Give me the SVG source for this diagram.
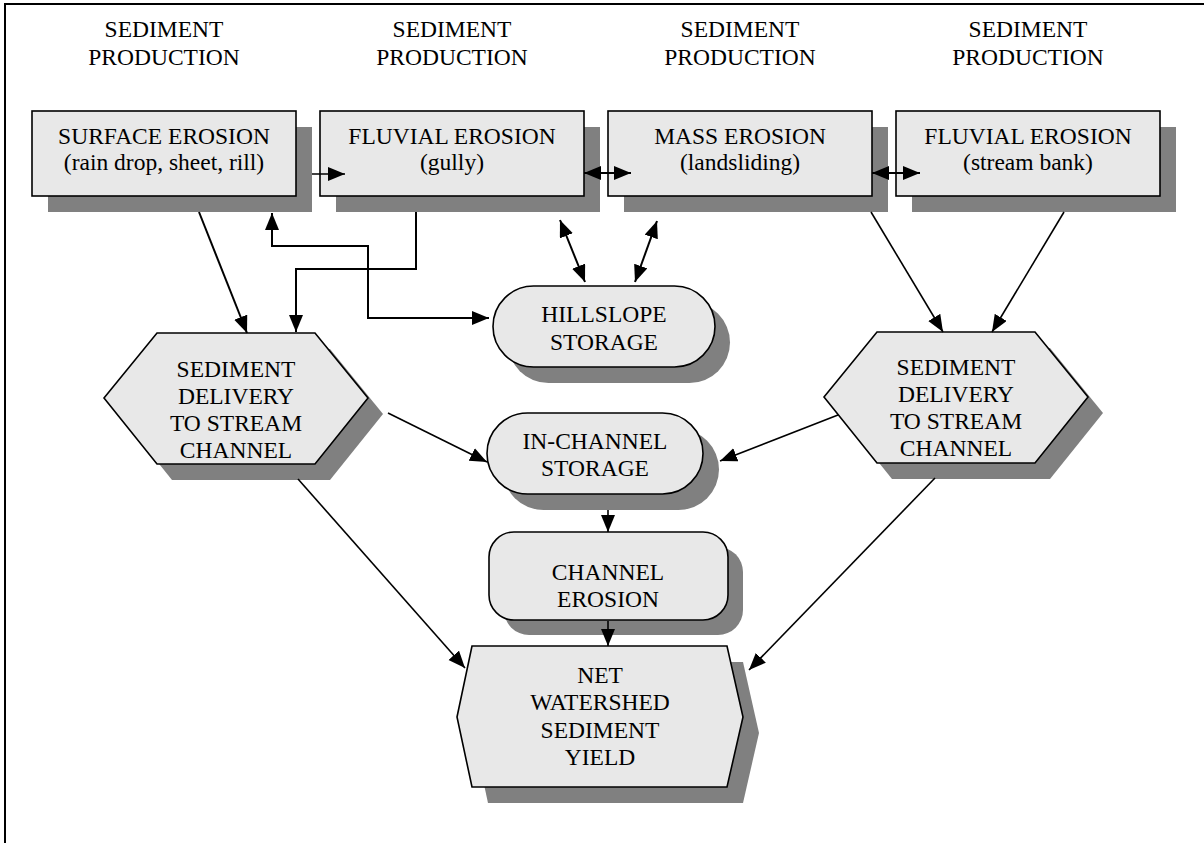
<svg xmlns="http://www.w3.org/2000/svg" width="1204" height="843" viewBox="0 0 1204 843">
<style>
.t{font-family:'Liberation Serif','Times New Roman',Tinos,'DejaVu Serif','Noto Serif',serif;font-size:23.5px;text-anchor:middle;fill:#000}
.box{fill:#e8e8e8;stroke:#000;stroke-width:1.6}
.sh{fill:#808080;stroke:none}
.c{fill:none;stroke:#000;stroke-width:2}
.c2{fill:none;stroke:#000;stroke-width:1.6}
</style>
<defs>
<marker id="ah" markerUnits="userSpaceOnUse" markerWidth="19" markerHeight="15" refX="17" refY="7" orient="auto-start-reverse">
<path d="M0,0 L17,7 L0,14 z" fill="#000"/>
</marker>
</defs>
<rect width="1204" height="843" fill="#fff"/>
<path d="M5,843 V4 H1204" fill="none" stroke="#000" stroke-width="2"/>

<g id="headers" font-family="Liberation Serif, serif">
<text class="t" x="164" y="37">SEDIMENT</text><text class="t" x="164" y="65">PRODUCTION</text>
<text class="t" x="452" y="37">SEDIMENT</text><text class="t" x="452" y="65">PRODUCTION</text>
<text class="t" x="740" y="37">SEDIMENT</text><text class="t" x="740" y="65">PRODUCTION</text>
<text class="t" x="1028" y="37">SEDIMENT</text><text class="t" x="1028" y="65">PRODUCTION</text>
</g>

<g id="surface-erosion">
<rect class="sh" x="48" y="127" width="264" height="85"/>
<rect class="box" x="32" y="111" width="264" height="85"/>
<text class="t" x="164" y="144">SURFACE EROSION</text><text class="t" x="164" y="170">(rain drop, sheet, rill)</text>
</g>
<g id="fluvial-gully">
<rect class="sh" x="336" y="127" width="264" height="85"/>
<rect class="box" x="320" y="111" width="264" height="85"/>
<text class="t" x="452" y="144">FLUVIAL EROSION</text><text class="t" x="452" y="170">(gully)</text>
</g>
<g id="mass-erosion">
<rect class="sh" x="624" y="127" width="264" height="85"/>
<rect class="box" x="608" y="111" width="264" height="85"/>
<text class="t" x="740" y="144">MASS EROSION</text><text class="t" x="740" y="170">(landsliding)</text>
</g>
<g id="fluvial-bank">
<rect class="sh" x="912" y="127" width="264" height="85"/>
<rect class="box" x="896" y="111" width="264" height="85"/>
<text class="t" x="1028" y="144">FLUVIAL EROSION</text><text class="t" x="1028" y="170">(stream bank)</text>
</g>

<g id="hillslope-storage">
<rect class="sh" x="508" y="302" width="222" height="81" rx="40.5"/>
<rect class="box" x="493" y="286" width="222" height="81" rx="40.5"/>
<text class="t" x="604" y="322">HILLSLOPE</text><text class="t" x="604" y="350">STORAGE</text>
</g>

<g id="delivery-left">
<polygon class="sh" points="119,414 172,349 330,349 383,414 330,480 172,480"/>
<polygon class="box" points="104,398 157,333 315,333 368,398 315,464 157,464"/>
<text class="t" x="236" y="377">SEDIMENT</text><text class="t" x="236" y="404">DELIVERY</text><text class="t" x="236" y="431">TO STREAM</text><text class="t" x="236" y="458">CHANNEL</text>
</g>
<g id="delivery-right">
<polygon class="sh" points="839,413 892,348 1050,348 1103,413 1050,479 892,479"/>
<polygon class="box" points="824,397 877,332 1035,332 1088,397 1035,463 877,463"/>
<text class="t" x="956" y="375">SEDIMENT</text><text class="t" x="956" y="402">DELIVERY</text><text class="t" x="956" y="429">TO STREAM</text><text class="t" x="956" y="456">CHANNEL</text>
</g>

<g id="in-channel-storage">
<rect class="sh" x="503" y="429" width="216" height="81" rx="40.5"/>
<rect class="box" x="487" y="413" width="216" height="81" rx="40.5"/>
<text class="t" x="595" y="449">IN-CHANNEL</text><text class="t" x="595" y="476">STORAGE</text>
</g>

<g id="channel-erosion">
<rect class="sh" x="504" y="547" width="239" height="88" rx="25"/>
<rect class="box" x="489" y="532" width="239" height="88" rx="25"/>
<text class="t" x="608" y="580">CHANNEL</text><text class="t" x="608" y="607">EROSION</text>
</g>

<g id="net-yield">
<polygon class="sh" points="473,733 488,662 743,662 759,733 743,803 488,803"/>
<polygon class="box" points="457,717 472,646 727,646 743,717 727,787 472,787"/>
<text class="t" x="600" y="683">NET</text><text class="t" x="600" y="710">WATERSHED</text><text class="t" x="600" y="738">SEDIMENT</text><text class="t" x="600" y="765">YIELD</text>
</g>

<g id="connectors">
<path class="c2" d="M312,174 H345" marker-end="url(#ah)"/>
<path class="c" d="M584,173 H631" marker-start="url(#ah)" marker-end="url(#ah)"/>
<path class="c" d="M872,173 H920" marker-start="url(#ah)" marker-end="url(#ah)"/>
<path class="c" d="M199,212 L247,333" marker-end="url(#ah)"/>
<path class="c" d="M272,213 V246 H368 V318 H489" marker-start="url(#ah)" marker-end="url(#ah)"/>
<path class="c" d="M416,212 V269 H296 V332" marker-end="url(#ah)"/>
<path class="c" d="M560,220 L585,282" marker-start="url(#ah)" marker-end="url(#ah)"/>
<path class="c" d="M657,221 L635,282" marker-start="url(#ah)" marker-end="url(#ah)"/>
<path class="c2" d="M871,212 L943,332" marker-end="url(#ah)"/>
<path class="c2" d="M1064,212 L992,332" marker-end="url(#ah)"/>
<path class="c2" d="M388,413 L487,462" marker-end="url(#ah)"/>
<path class="c2" d="M838,415 L720,461" marker-end="url(#ah)"/>
<path class="c2" d="M608,510 V532" marker-end="url(#ah)"/>
<path class="c2" d="M608,621 V646" marker-end="url(#ah)"/>
<path class="c2" d="M298,479 L465,668" marker-end="url(#ah)"/>
<path class="c2" d="M935,478 L749,670" marker-end="url(#ah)"/>
</g>
</svg>
